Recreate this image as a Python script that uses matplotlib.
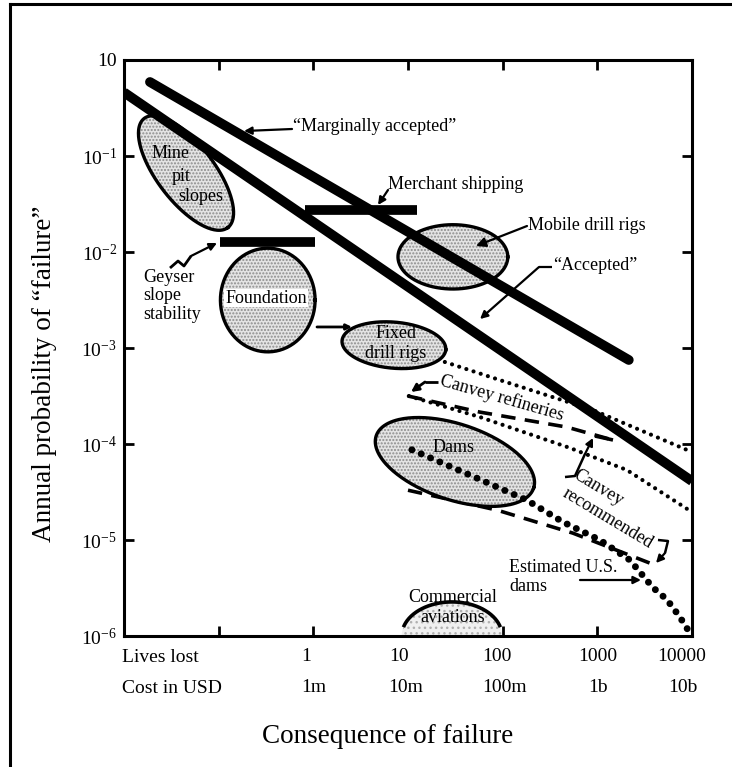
import numpy as np
import matplotlib
matplotlib.use('Agg')
import matplotlib.pyplot as plt
from matplotlib.lines import Line2D

plt.rcParams['font.family'] = ['Liberation Serif', 'DejaVu Serif']
plt.rcParams['mathtext.fontset'] = 'custom'
plt.rcParams['mathtext.rm'] = 'Liberation Serif'
plt.rcParams['mathtext.it'] = 'Liberation Serif:italic'
plt.rcParams['hatch.color'] = '#8c8c8c'
plt.rcParams['hatch.linewidth'] = 1.0

# ---------------- data ----------------
y_tick_values = [1, 1e-1, 1e-2, 1e-3, 1e-4, 1e-5, 1e-6]
y_tick_labels = ['10', r'$10^{-1}$', r'$10^{-2}$', r'$10^{-3}$', r'$10^{-4}$', r'$10^{-5}$', r'$10^{-6}$']
x_tick_values = [1, 10, 100, 1000, 10000]
lives_lost_labels = ['1', '10', '100', '1000', '10000']
cost_labels = ['1m', '10m', '100m', '1b', '10b']

marginal_x = [0.0188, 2150]
marginal_y = [0.59, 7.5e-4]
accepted_x = [0.01, 1e4]
accepted_y = [0.46, 4.1e-5]
merchant_x = [0.815, 12.4]
merchant_y = [0.0274, 0.0274]
geyser_x = [0.103, 1.04]
geyser_y = [0.0127, 0.0127]

# ellipses: centre (data), semi-axes (decades), tilt (deg)
ellipse_names = ['Mine pit slopes', 'Foundation', 'Mobile drill rigs', 'Fixed drill rigs', 'Dams']
ellipse_cx = [0.0452, 0.33, 29.8, 7.1, 31.3]
ellipse_cy = [0.0665, 3.16e-3, 8.9e-3, 1.07e-3, 6.5e-5]
ellipse_a = [0.72, 0.50, 0.58, 0.55, 0.875]
ellipse_b = [0.30, 0.54, 0.335, 0.24, 0.395]
ellipse_angle = [-52, 0, 0, -5, -18]

aviation_cx, aviation_cy = 29.1, 1e-6
aviation_a, aviation_b = 0.53, 0.355

canvey_upper_x = [24.5, 93, 896, 9950]
canvey_upper_y = [7.15e-4, 4.64e-4, 2.26e-4, 8.26e-5]
canvey_lower_x = [10.2, 57.4, 513, 2050, 9950]
canvey_lower_y = [3.16e-4, 1.91e-4, 9.1e-5, 5.36e-5, 1.96e-5]
recommended_upper_x = [10, 57.4, 476, 1460]
recommended_upper_y = [3.16e-4, 2.15e-4, 1.5e-4, 1.1e-4]
recommended_lower_x = [10, 87, 551, 3580]
recommended_lower_y = [3.3e-5, 2.05e-5, 1.18e-5, 5.75e-6]
us_dams_x = [11, 45, 180, 433, 1062, 2200, 3860, 5420, 7430, 9950]
us_dams_y = [8.7e-5, 4.75e-5, 2.6e-5, 1.54e-5, 1.0e-5, 6.2e-6, 3.2e-6, 2.4e-6, 1.58e-6, 1.0e-6]


def ellipse_xy(cx, cy, a, b, ang, t0=0.0, t1=2 * np.pi, n=240):
    t = np.linspace(t0, t1, n)
    th = np.deg2rad(ang)
    lx = np.log10(cx) + a * np.cos(t) * np.cos(th) - b * np.sin(t) * np.sin(th)
    ly = np.log10(cy) + a * np.cos(t) * np.sin(th) + b * np.sin(t) * np.cos(th)
    return 10 ** lx, 10 ** ly


fig = plt.figure(figsize=(7.32, 7.67), dpi=100)
ax = fig.add_axes([124 / 732, 1 - 636 / 767, 568 / 732, 576 / 767])
ax.set_xscale('log')
ax.set_yscale('log')
ax.set_xlim(1e-2, 1e4)
ax.set_ylim(1e-6, 1)

# ellipses
for cx, cy, a, b, ang in zip(ellipse_cx, ellipse_cy, ellipse_a, ellipse_b, ellipse_angle):
    ex, ey = ellipse_xy(cx, cy, a, b, ang)
    ax.fill(ex, ey, facecolor='#e4e4e4', edgecolor='#8c8c8c', linewidth=0, hatch='.....', zorder=2)
    ax.plot(ex, ey, color='black', lw=2.4, zorder=3)

# commercial aviation half ellipse
ex, ey = ellipse_xy(aviation_cx, aviation_cy, aviation_a, aviation_b, 0, 0, np.pi)
ax.fill(ex, ey, facecolor='#f0f0f0', edgecolor='#b0b0b0', linewidth=0, hatch='...', zorder=2)
ex, ey = ellipse_xy(aviation_cx, aviation_cy, aviation_a, aviation_b, 0, np.deg2rad(15), np.deg2rad(165))
ax.plot(ex, ey, color='black', lw=2.6, zorder=3, solid_capstyle='butt')

# Canvey lines
ax.plot(canvey_upper_x, canvey_upper_y, color='black', lw=3.0, ls=(0, (0.01, 1.8)),
        dash_capstyle='round', zorder=3)
ax.plot(canvey_lower_x, canvey_lower_y, color='black', lw=3.0, ls=(0, (0.01, 1.8)),
        dash_capstyle='round', zorder=3)
ax.plot(recommended_upper_x, recommended_upper_y, color='black', lw=2.6, ls=(0, (4, 2.6)), zorder=3)
ax.plot(recommended_lower_x, recommended_lower_y, color='black', lw=2.6, ls=(0, (4, 2.6)), zorder=1)

# Estimated U.S. dams
ax.plot(us_dams_x, us_dams_y, color='black', lw=5, ls=(0, (0.01, 1.45)),
        dash_capstyle='round', zorder=4, clip_on=False)

# thick criterion lines and bars
ax.plot(marginal_x, marginal_y, color='black', lw=7, solid_capstyle='round', zorder=5)
ax.plot(accepted_x, accepted_y, color='black', lw=7, solid_capstyle='butt', zorder=5)
ax.plot(merchant_x, merchant_y, color='black', lw=7, solid_capstyle='butt', zorder=5)
ax.plot(geyser_x, geyser_y, color='black', lw=7, solid_capstyle='butt', zorder=5)

# axes styling
for s in ax.spines.values():
    s.set_linewidth(2.2)
ax.set_yticks(y_tick_values)
ax.set_yticklabels(y_tick_labels)
ax.set_xticks([0.1, 1, 10, 100, 1000])
ax.set_xticklabels([])
ax.minorticks_off()
ax.tick_params(axis='both', which='major', direction='in', length=7, width=2,
               top=True, right=True, labelsize=14, pad=5)
ax.tick_params(axis='x', labelbottom=False)

# bottom label rows
row1_dx = [-7, -9, -6, 0, -10]
row2_dx = [0, -2, 2, 1, -9]
for xv, l1, l2, d1, d2 in zip(x_tick_values, lives_lost_labels, cost_labels, row1_dx, row2_dx):
    ax.annotate(l1, xy=(xv, 0), xycoords=('data', 'axes fraction'), xytext=(d1 * 0.72, -15.1),
                textcoords='offset points', ha='center', va='center', fontsize=14, annotation_clip=False)
    ax.annotate(l2, xy=(xv, 0), xycoords=('data', 'axes fraction'), xytext=(d2 * 0.72, -37.4),
                textcoords='offset points', ha='center', va='center', fontsize=14, annotation_clip=False)
ax.text(-0.0035, -0.0365, 'Lives lost', transform=ax.transAxes, ha='left', va='center', fontsize=14)
ax.text(-0.0035, -0.0903, 'Cost in USD', transform=ax.transAxes, ha='left', va='center', fontsize=14)

ax.text(0.4648, -0.1753, 'Consequence of failure', transform=ax.transAxes, ha='center', va='center',
        fontsize=19.5)
ax.text(-0.1408, 0.4549, 'Annual probability of \u201cfailure\u201d', transform=ax.transAxes,
        ha='center', va='center', rotation=90, fontsize=19.5)

T = ax.transAxes
FS = 13
arrow_kw = dict(arrowstyle='-|>', color='black', lw=1.6, mutation_scale=11, shrinkA=0, shrinkB=0)


def arrow(tail, tip, **kw):
    d = dict(arrow_kw)
    d.update(kw)
    ax.annotate('', xy=tip, xycoords=T, xytext=tail, textcoords=T, arrowprops=d, zorder=6)


def poly(pts, lw=1.6):
    xs, ys = zip(*pts)
    ax.plot(xs, ys, color='black', lw=lw, transform=T, clip_on=False, zorder=6,
            solid_capstyle='butt')


# labels and leaders
ax.text(0.2975, 0.8837, '\u201cMarginally accepted\u201d', transform=T, ha='left', va='center', fontsize=FS)
arrow((0.2958, 0.8802), (0.2113, 0.8767))

ax.text(0.4648, 0.7847, 'Merchant shipping', transform=T, ha='left', va='center', fontsize=FS)
arrow((0.4648, 0.7743), (0.4472, 0.7483))

ax.text(0.7113, 0.7135, 'Mobile drill rigs', transform=T, ha='left', va='center', fontsize=FS)
arrow((0.7095, 0.7118), (0.6197, 0.6771), mutation_scale=14)

ax.text(0.7553, 0.6424, '\u201cAccepted\u201d', transform=T, ha='left', va='center', fontsize=FS)
poly([(0.7535, 0.6406), (0.7306, 0.6406)])
arrow((0.7306, 0.6406), (0.6268, 0.5503))

ax.text(0.0335, 0.5903, 'Geyser\nslope\nstability', transform=T, ha='left', va='center',
        fontsize=FS, linespacing=1.15)
poly([(0.0810, 0.6389), (0.0951, 0.6510), (0.1056, 0.6424), (0.1180, 0.6597)], lw=2)
arrow((0.1180, 0.6597), (0.1637, 0.6823))

ax.text(0.0827, 0.8385, 'Mine', transform=T, ha='center', va='center', fontsize=FS, zorder=6)
ax.text(0.1004, 0.7969, 'pit', transform=T, ha='center', va='center', fontsize=FS, zorder=6)
ax.text(0.1356, 0.7622, 'slopes', transform=T, ha='center', va='center', fontsize=FS, zorder=6)

ax.text(0.25, 0.5868, 'Foundation', transform=T, ha='center', va='center', fontsize=FS, zorder=6,
        bbox=dict(boxstyle='square,pad=0.05', fc='white', ec='none'))
ax.text(0.4789, 0.526, 'Fixed', transform=T, ha='center', va='center', fontsize=FS, zorder=6)
ax.text(0.4789, 0.4913, 'drill rigs', transform=T, ha='center', va='center', fontsize=FS, zorder=6)
arrow((0.3398, 0.5365), (0.4014, 0.5365), lw=2, mutation_scale=8)

ax.text(0.6655, 0.4132, 'Canvey refineries', transform=T, ha='center', va='center', fontsize=FS,
        rotation=-16, rotation_mode='anchor', zorder=6)
poly([(0.5528, 0.4410), (0.5299, 0.4410)], lw=2)
arrow((0.5299, 0.4410), (0.5053, 0.4236), lw=2)

ax.text(0.5810, 0.3264, 'Dams', transform=T, ha='center', va='center', fontsize=FS, zorder=6)

ax.text(0.8345, 0.2569, 'Canvey', transform=T, ha='center', va='center', fontsize=FS,
        rotation=-31, rotation_mode='anchor', zorder=6)
ax.text(0.8521, 0.2049, 'recommended', transform=T, ha='center', va='center', fontsize=FS,
        rotation=-31, rotation_mode='anchor', zorder=6)
poly([(0.7764, 0.2760), (0.7940, 0.2778), (0.8116, 0.3160)], lw=1.8)
arrow((0.8116, 0.3160), (0.8257, 0.3438))
poly([(0.8292, 0.3472), (0.8609, 0.3403)], lw=2.6)
poly([(0.9401, 0.1667), (0.9577, 0.1649), (0.9525, 0.1441)], lw=1.8)
arrow((0.9525, 0.1441), (0.9366, 0.1267))

ax.text(0.6778, 0.1024, 'Estimated U.S.\ndams', transform=T, ha='left', va='center', fontsize=FS,
        linespacing=1.1)
arrow((0.8028, 0.0972), (0.9102, 0.0972))

ax.text(0.5792, 0.0677, 'Commercial', transform=T, ha='center', va='center', fontsize=FS, zorder=6)
ax.text(0.5792, 0.03125, 'aviations', transform=T, ha='center', va='center', fontsize=FS, zorder=6)

# outer frame
fig.add_artist(Line2D([10 / 732, 10 / 732], [0, 1 - 4 / 767], transform=fig.transFigure, color='black', lw=2.2))
fig.add_artist(Line2D([10 / 732, 1], [1 - 4 / 767, 1 - 4 / 767], transform=fig.transFigure, color='black', lw=2.2))

fig.savefig('out.png', dpi=100)
